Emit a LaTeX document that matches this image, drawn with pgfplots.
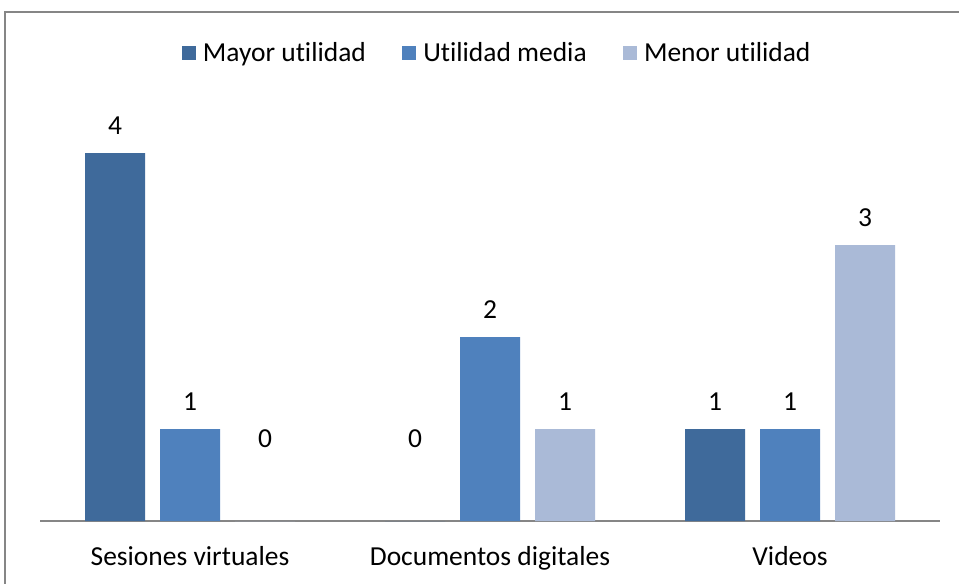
\documentclass[border=0pt]{standalone}
\usepackage{pgfplots}
\pgfplotsset{compat=1.18}
\usepackage{fontspec}
\setmainfont{Carlito}[Ligatures=NoCommon]
\definecolor{dark}{HTML}{3F6A9B}
\definecolor{mid}{HTML}{4F81BD}
\definecolor{light}{HTML}{AABAD7}
\definecolor{frame}{HTML}{868686}
\newcommand\fs{\fontsize{20.6pt}{24pt}\selectfont}

\begin{document}
\begin{tikzpicture}[x=0.75pt,y=0.75pt]
\useasboundingbox (0,0) rectangle (959,583);
\draw[frame, line width=1.5pt] (5,-10) -- (5,571) -- (975,571);
\begin{axis}[
    at={(30pt,46.5pt)}, anchor=south west,
    scale only axis, width=675pt, height=331.2pt,
    xmin=-0.5, xmax=2.5, ymin=0, ymax=4.8,
    hide y axis,
    axis x line*=bottom,
    axis line style={frame, line width=1.5pt},
    xtick={0,1,2},
    xticklabels={Sesiones virtuales, Documentos digitales, Videos},
    major tick length=0pt,
    xticklabel style={font=\fs, anchor=base, yshift=-33pt},
    ybar=11.25pt, bar width=45pt,
    nodes near coords,
    /pgf/number format/assume math mode=true,
    visualization depends on={rawy \as \rawy},
    every node near coord/.append style={font=\fs, text=black, anchor=base,
        yshift={14.25pt+(\rawy==0)*41.25pt}},
    legend style={at={(axis cs:1.02,5.086)}, anchor=center, draw=none,
        font=\fs, inner sep=0pt, nodes={inner sep=0pt},
        /tikz/every odd column/.append style={column sep=5.5pt},
        /tikz/every even column/.append style={column sep=27pt}},
    legend columns=-1,
    legend image code/.code={\fill[#1] (0pt,{-0.2em-3pt}) rectangle (10.5pt,{7.5pt-0.2em});},
]
\addplot[fill=dark, draw=none] coordinates {(0,4) (1,0) (2,1)};
\addplot[fill=mid, draw=none] coordinates {(0,1) (1,2) (2,1)};
\addplot[fill=light, draw=none] coordinates {(0,0) (1,1) (2,3)};
\legend{Mayor utilidad, Utilidad media, Menor utilidad}
\end{axis}
\end{tikzpicture}
\end{document}
